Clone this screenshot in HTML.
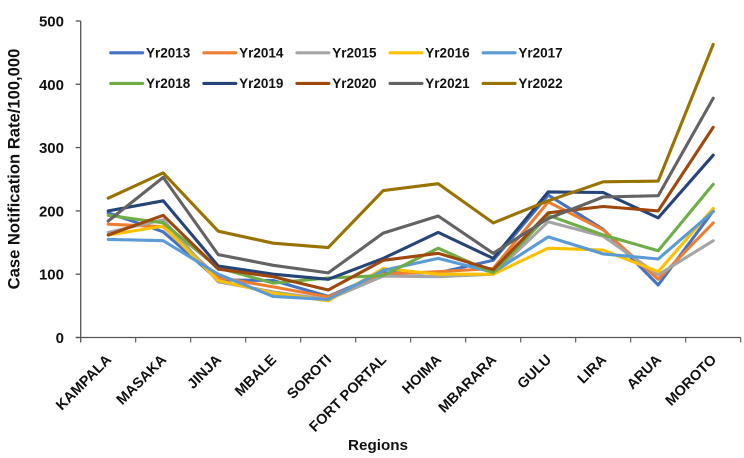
<!DOCTYPE html>
<html lang="en">
<head>
<meta charset="utf-8">
<title>Case Notification Rate by Region</title>
<style>
html,body{margin:0;padding:0;background:#fff;}
body{width:744px;height:458px;overflow:hidden;}
svg{display:block;}
text{font-family:"Liberation Sans",sans-serif;font-weight:bold;fill:#111;}
</style>
</head>
<body>
<svg id="chart" width="744" height="458" viewBox="0 0 744 458" xmlns="http://www.w3.org/2000/svg">
<text x="0" y="0" transform="translate(19.5,169) rotate(-90)" text-anchor="middle" font-size="16.6">Case Notification Rate/100,000</text>
<text x="378" y="450" text-anchor="middle" font-size="15.2">Regions</text>
</svg>
<script>
const categories = ["KAMPALA","MASAKA","JINJA","MBALE","SOROTI","FORT PORTAL","HOIMA","MBARARA","GULU","LIRA","ARUA","MOROTO"];
const yTicks = [0,100,200,300,400,500];
const seriesNames = ["Yr2013","Yr2014","Yr2015","Yr2016","Yr2017","Yr2018","Yr2019","Yr2020","Yr2021","Yr2022"];
const seriesColors = ["#4472C4","#ED7D31","#A5A5A5","#FFC000","#5B9BD5","#70AD47","#264478","#9E480E","#636363","#997300"];
const yr2013 = [197,167,91,90,65,102,102,122,225,171,83,200];
const yr2014 = [179,175,95,80,64,100,104,109,214,170,92,181];
const yr2015 = [166,186,88,72,60,97,96,100,183,160,99,153];
const yr2016 = [162,176,90,70,58,109,100,100,141,138,104,204];
const yr2017 = [155,153,100,65,60,106,125,103,159,132,124,199];
const yr2018 = [193,181,110,86,94,98,141,102,193,162,137,242];
const yr2019 = [200,216,113,100,92,125,166,125,230,229,189,288];
const yr2020 = [162,193,108,96,75,122,133,107,197,207,200,332];
const yr2021 = [184,253,131,114,102,165,192,133,188,222,224,378];
const yr2022 = [220,260,168,149,142,232,243,181,216,246,247,463];
const seriesValues = [yr2013,yr2014,yr2015,yr2016,yr2017,yr2018,yr2019,yr2020,yr2021,yr2022];

const svg = document.getElementById('chart');
const NS = 'http://www.w3.org/2000/svg';
const plot = {left:80.7, right:740.7, top:21, bottom:337.5};
const yMax = 500;
function xBand(i){ return plot.left + (plot.right - plot.left) / categories.length * i; }
function xCenter(i){ return xBand(i + 0.5); }
function yScale(v){ return plot.bottom - (plot.bottom - plot.top) * v / yMax; }
function make(tag, attrs){
  const el = document.createElementNS(NS, tag);
  for (const k in attrs) el.setAttribute(k, attrs[k]);
  return el;
}

// Axes
const yAxis = make('line', {x1:plot.left, x2:plot.left, y1:plot.top, y2:plot.bottom + 5, stroke:'#555', 'stroke-width':1.3});


svg.appendChild(yAxis);
const xAxis = make('line', {x1:plot.left - 5, x2:plot.right, y1:plot.bottom, y2:plot.bottom, stroke:'#555', 'stroke-width':1.3});


svg.appendChild(xAxis);

yTicks.forEach(function(t){
  const y = yScale(t);
  const tick = make('line', {x1:plot.left - 5, x2:plot.left, y1:y, y2:y, stroke:'#555', 'stroke-width':1.3});
  
  
  svg.appendChild(tick);
  const label = make('text', {x:64, y:y + 5.5, 'text-anchor':'end', 'font-size':15});
  
  
  label.textContent = t;
  svg.appendChild(label);
});

for (let i = 1; i <= categories.length; i++) {
  const x = xBand(i);
  const tick = make('line', {x1:x, x2:x, y1:plot.bottom, y2:plot.bottom + 5, stroke:'#555', 'stroke-width':1.1});
  
  
  svg.appendChild(tick);
}

categories.forEach(function(c, i){
  const x = xCenter(i) + 4;
  const y = plot.bottom + 23;
  const label = make('text', {x:0, y:0, 'text-anchor':'end', 'font-size':14.5, transform:'translate(' + x + ',' + y + ') rotate(-45)'});
  
  
  label.textContent = c;
  svg.appendChild(label);
});

// Series
seriesValues.forEach(function(vals, s){
  const pts = vals.map(function(v, i){ return xCenter(i).toFixed(1) + ',' + yScale(v).toFixed(1); }).join(' ');
  const line = make('polyline', {points:pts, fill:'none', stroke:seriesColors[s], 'stroke-width':3.1, 'stroke-linecap':'round', 'stroke-linejoin':'round'});
  
  
  line.setAttribute('data-series', seriesNames[s]);
  svg.appendChild(line);
});

// Legend
seriesNames.forEach(function(n, s){
  const col = s % 5;
  const row = Math.floor(s / 5);
  const x = 110.7 + col * 93.1;
  const y = 52.8 + row * 30.6;
  const swatch = make('line', {x1:x, x2:x + 32, y1:y, y2:y, stroke:seriesColors[s], 'stroke-width':3.1, 'stroke-linecap':'round'});
  
  
  svg.appendChild(swatch);
  const label = make('text', {x:x + 35.3, y:y + 4.7, 'font-size':13.5});
  
  
  label.textContent = n;
  svg.appendChild(label);
});
</script>
</body>
</html>
